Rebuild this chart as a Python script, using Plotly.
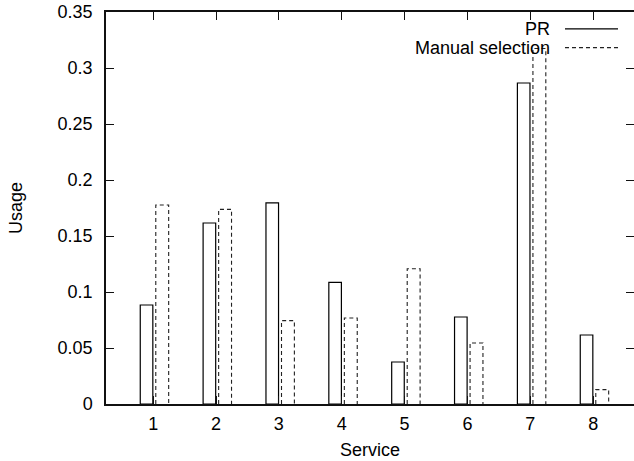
import plotly.graph_objects as go

# Usage per service for the two selection strategies
services = [1, 2, 3, 4, 5, 6, 7, 8]
pr_usage = [0.0884, 0.1616, 0.1795, 0.1086, 0.0375, 0.0777, 0.2866, 0.0616]
manual_usage = [0.1777, 0.1738, 0.0744, 0.0768, 0.1208, 0.0545, 0.3174, 0.0128]
y_ticks = [0, 0.05, 0.1, 0.15, 0.2, 0.25, 0.3, 0.35]
y_tick_labels = ["0", "0.05", "0.1", "0.15", "0.2", "0.25", "0.3", "0.35"]

FONT = "Liberation Sans, Arial, Helvetica, sans-serif"
FSIZE = 18
PR_OFFSET, PR_WIDTH = -0.205, 0.2
MS_OFFSET, MS_WIDTH = 0.042, 0.205

fig = go.Figure()

# PR: solid outlined boxes
fig.add_trace(go.Bar(
    x=services, y=pr_usage, name="PR",
    offset=PR_OFFSET, width=PR_WIDTH,
    marker=dict(color="rgba(255,255,255,0)", line=dict(color="#000000", width=1.2)),
    showlegend=False,
))

# Manual selection: dashed outlined boxes (bar outlines cannot be dashed, so trace the outline)
xs, ys = [], []
for s, v in zip(services, manual_usage):
    x0, x1 = s + MS_OFFSET, s + MS_OFFSET + MS_WIDTH
    xs += [x0, x0, x1, x1, None]
    ys += [0, v, v, 0, None]
fig.add_trace(go.Scatter(
    x=xs, y=ys, mode="lines", name="Manual selection", yaxis="y2",
    line=dict(color="#222222", width=1.1, dash="4px,3px"),
    showlegend=False,
))

tick_style = dict(ticks="inside", ticklen=8, tickwidth=1.1, tickcolor="#111111")
line_style = dict(showgrid=False, zeroline=False, linecolor="#111111", linewidth=1.5)
tick_font = dict(family=FONT, size=FSIZE, color="#000000")

fig.update_layout(
    xaxis=dict(
        range=[0.25, 8.65], tickvals=services, ticktext=[str(s) for s in services],
        showline=True, mirror="ticks", ticklabelstandoff=3, automargin=False,
        tickfont=tick_font,
        title=dict(text="Service", font=tick_font, standoff=10),
        **tick_style, **line_style,
    ),
    yaxis=dict(
        range=[0, 0.35], tickvals=y_ticks, ticktext=y_tick_labels,
        showline=True, mirror=False, ticklabelstandoff=8, automargin=False,
        tickfont=tick_font,
        title=dict(text="Usage", font=tick_font, standoff=30),
        **tick_style, **line_style,
    ),
    # same scale on the right: ticks only, no border line
    yaxis2=dict(
        overlaying="y", side="right", range=[0, 0.35], tickvals=y_ticks,
        showticklabels=False, showline=False, automargin=False,
        showgrid=False, zeroline=False, **tick_style,
    ),
)

# Key in the upper right: label to the left of its line sample
key_rows = [("PR", 0.957, "solid", "#000000"), ("Manual selection", 0.909, "4px,3px", "#222222")]
for label, ypos, dash, color in key_rows:
    fig.add_annotation(
        x=0.8447, y=ypos, xref="paper", yref="paper", text=label, showarrow=False,
        xanchor="right", yanchor="middle", font=dict(family=FONT, size=FSIZE, color="#000000"),
    )
    fig.add_shape(
        type="line", xref="paper", yref="paper", x0=0.8693, x1=0.9697, y0=ypos, y1=ypos,
        line=dict(color=color, width=1.1, dash=dash),
    )

fig.update_layout(
    width=634, height=461,
    margin=dict(l=106, r=0, t=12, b=57),
    paper_bgcolor="white", plot_bgcolor="white",
    barmode="overlay",
)

fig.write_html("out.html")
